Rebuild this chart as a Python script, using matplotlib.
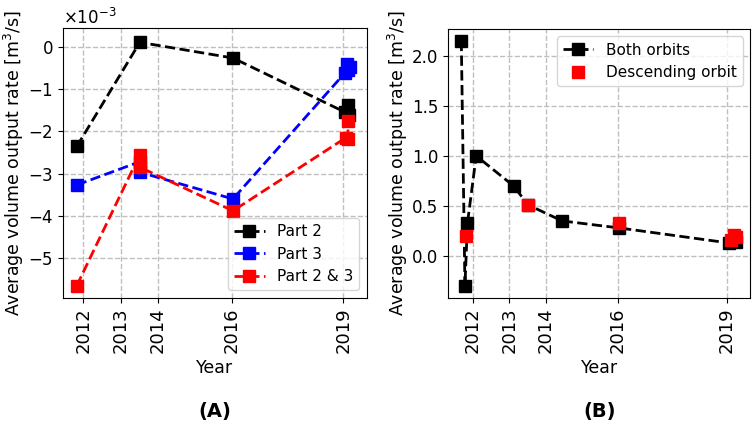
import numpy as np
import matplotlib
matplotlib.use("Agg")
import matplotlib.pyplot as plt

plt.rcParams['font.size'] = 12

# --- (A) volume output rate per part, units m^3/s ---
part2_t = [2011.82, 2013.52, 2016.03, 2019.05, 2019.12, 2019.16]
part2_v = [-2.36e-3, 0.10e-3, -0.27e-3, -1.55e-3, -1.38e-3, -1.62e-3]

part3_t = [2011.82, 2013.52, 2013.52, 2016.03, 2019.05, 2019.10, 2019.18, 2019.14]
part3_v = [-3.27e-3, -2.72e-3, -2.97e-3, -3.60e-3, -0.62e-3, -0.40e-3, -0.48e-3, -0.55e-3]

part23_t = [2011.82, 2013.52, 2013.52, 2016.03, 2019.08, 2019.14, 2019.12]
part23_v = [-5.65e-3, -2.55e-3, -2.85e-3, -3.88e-3, -2.15e-3, -2.18e-3, -1.75e-3]

# --- (B) both orbits vs descending orbit ---
both_t = [2011.68, 2011.78, 2011.85, 2012.09, 2013.12, 2013.52, 2014.46, 2016.03, 2019.05, 2019.25]
both_v = [2.15, -0.30, 0.33, 1.00, 0.70, 0.51, 0.35, 0.28, 0.13, 0.14]

desc_t = [2011.82, 2013.52, 2016.03, 2019.12, 2019.18, 2019.25]
desc_v = [0.20, 0.51, 0.33, 0.16, 0.21, 0.19]

year_ticks = [2012, 2013, 2014, 2016, 2019]

fig = plt.figure(figsize=(7.54, 4.30), dpi=100)
ax1 = fig.add_axes([0.0836, 0.307, 0.403, 0.628])
ax2 = fig.add_axes([0.594, 0.307, 0.401, 0.626])

kw = dict(linestyle='--', linewidth=2, marker='s', markersize=8)

# Panel A
ax1.plot(part2_t, part2_v, color='k', label='Part 2', **kw)
ax1.plot(part3_t, part3_v, color='b', label='Part 3', **kw)
ax1.plot(part23_t, part23_v, color='r', label='Part 2 & 3', **kw)
ax1.set_xlim(2011.45, 2019.64)
ax1.set_ylim(-5.94e-3, 0.44e-3)
ax1.ticklabel_format(axis='y', style='sci', scilimits=(0, 0), useMathText=True)
ax1.yaxis.get_offset_text().set_fontsize(12)
ax1.legend(loc='lower right', fontsize=11)

# Panel B
ax2.plot(both_t, both_v, color='k', label='Both orbits', **kw)
ax2.plot(desc_t, desc_v, color='r', linestyle='none', marker='s', markersize=8,
         label='Descending orbit')
ax2.set_xlim(2011.31, 2019.64)
ax2.set_ylim(-0.42, 2.27)
ax2.set_yticks([0.0, 0.5, 1.0, 1.5, 2.0])
ax2.legend(loc='upper right', fontsize=11)

for ax in (ax1, ax2):
    ax.set_xticks(year_ticks)
    ax.set_xticklabels([str(y) for y in year_ticks], rotation=90, fontsize=13)
    ax.tick_params(axis='y', labelsize=12)
    ax.set_xlabel('Year', fontsize=12.5)
    ax.set_ylabel('Average volume output rate [m$^3$/s]', fontsize=12.5, labelpad=1)
    ax.grid(True, linestyle='--', color='0.75', linewidth=1)
    ax.set_axisbelow(True)

fig.text(0.285, 0.030, '(A)', ha='center', fontsize=14, fontweight='bold')
fig.text(0.795, 0.030, '(B)', ha='center', fontsize=14, fontweight='bold')

fig.savefig('out.png', dpi=100)
